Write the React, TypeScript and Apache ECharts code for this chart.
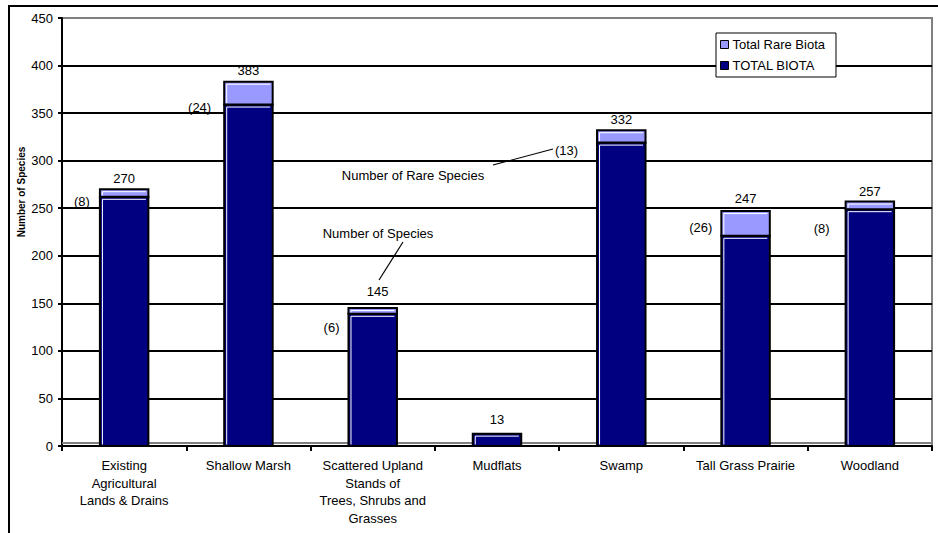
import React, { useEffect, useRef } from "react";
import * as echarts from "echarts";

// Habitat categories along the x axis
const CATEGORIES = [
  "Existing\nAgricultural\nLands & Drains",
  "Shallow Marsh",
  "Scattered Upland\nStands of\nTrees, Shrubs and\nGrasses",
  "Mudflats",
  "Swamp",
  "Tall Grass Prairie",
  "Woodland",
];

// Total number of species recorded per habitat (label on top of each bar)
const TOTAL_SPECIES = [270, 383, 145, 13, 332, 247, 257];

// Number of rare species per habitat (upper segment, label in parentheses)
const RARE_SPECIES = [8, 24, 6, 0, 13, 26, 8];

// Value axis range
const Y_MIN = 0;
const Y_MAX = 450;
const Y_STEP = 50;

const SERIES_RARE = "Total Rare Biota";
const SERIES_TOTAL = "TOTAL BIOTA";

const NAVY = "#000080";
const LAVENDER = "#9999FF";
const FONT = "Liberation Sans, Arial, Helvetica, sans-serif";
const BAR_RATIO = 0.39;

// Hand-placed label nudges (pixels), per category
const RARE_LABEL_SHIFT: [number, number][] = [
  [-10, 5],
  [-13, 3],
  [-9, 14],
  [0, 0],
  [-19, 8],
  [-9, -8],
  [-16, 19],
];
const TOTAL_LABEL_SHIFT: [number, number][] = [
  [0, 0],
  [0, 0],
  [5, -6],
  [0, -3],
  [0, 0],
  [0, -2],
  [0, 1],
];

function segmentRenderer(fill: string, withLabels: boolean) {
  return (params: any, api: any) => {
    const i = api.value(0);
    const lo = api.value(1);
    const hi = api.value(2);
    const pLo = api.coord([i, lo]);
    const pHi = api.coord([i, hi]);
    const bw = api.size([1, 0])[0] * BAR_RATIO;
    const x = pLo[0] - bw / 2;
    const y = pHi[1];
    const h = pLo[1] - pHi[1];
    const children: any[] = [];
    if (h > 0.5) {
      children.push({
        type: "rect",
        shape: { x, y, width: bw, height: h },
        style: { fill, stroke: "#000", lineWidth: 2 },
      });
      children.push({
        type: "polyline",
        shape: {
          points: [
            [x + 2.5, y + h - 1.5],
            [x + 2.5, y + 2.5],
            [x + bw - 2.5, y + 2.5],
          ],
        },
        style: { stroke: "#fff", lineWidth: 1, fill: null },
      });
    }
    if (withLabels) {
      const idx = params.dataIndex;
      const ts = TOTAL_LABEL_SHIFT[idx];
      children.push({
        type: "text",
        style: {
          text: String(hi),
          x: pLo[0] + ts[0],
          y: pHi[1] - 11 + ts[1],
          fill: "#000",
          font: `13px ${FONT}`,
          align: "center",
          verticalAlign: "middle",
          textAlign: "center",
          textVerticalAlign: "middle",
        },
      });
      const rare = hi - lo;
      if (rare > 0) {
        const rs = RARE_LABEL_SHIFT[idx];
        children.push({
          type: "text",
          style: {
            text: `(${rare})`,
            x: x + rs[0],
            y: pLo[1] + rs[1],
            fill: "#000",
            font: `13px ${FONT}`,
            align: "right",
            verticalAlign: "middle",
            textAlign: "right",
            textVerticalAlign: "middle",
          },
        });
      }
    }
    return { type: "group", children };
  };
}

export default function App() {
  const ref = useRef<HTMLDivElement>(null);

  useEffect(() => {
    if (!ref.current) return;
    const chart = echarts.init(ref.current, null, { renderer: "svg" });

    const baseData = CATEGORIES.map((_, i) => [i, 0, TOTAL_SPECIES[i] - RARE_SPECIES[i]]);
    const rareData = CATEGORIES.map((_, i) => [
      i,
      TOTAL_SPECIES[i] - RARE_SPECIES[i],
      TOTAL_SPECIES[i],
    ]);

    const textStyle = (extra: any) => ({
      fill: "#000",
      font: `13px ${FONT}`,
      ...extra,
    });

    chart.setOption({
      animation: false,
      backgroundColor: "#fff",
      textStyle: { fontFamily: FONT },
      grid: {
        left: 62,
        right: 6,
        top: 18,
        bottom: 87,
        show: true,
        borderColor: "#808080",
        borderWidth: 2,
        backgroundColor: "transparent",
      },
      legend: {
        orient: "vertical",
        left: 716,
        top: 33,
        padding: [5, 11, 5, 4],
        itemWidth: 8,
        itemHeight: 8,
        itemGap: 8,
        backgroundColor: "#fff",
        borderColor: "#000",
        borderWidth: 1,
        borderRadius: 0,
        itemStyle: { borderColor: "#000", borderWidth: 1 },
        textStyle: { fontSize: 13, color: "#000", fontFamily: FONT, padding: [0, 0, 0, -1] },
        data: [
          { name: SERIES_RARE, icon: "rect" },
          { name: SERIES_TOTAL, icon: "rect" },
        ],
      },
      xAxis: {
        type: "category",
        data: CATEGORIES,
        boundaryGap: true,
        axisLine: { show: true, lineStyle: { color: "#000", width: 2 } },
        axisTick: { show: true, length: 5, lineStyle: { color: "#000", width: 2 } },
        axisLabel: {
          interval: 0,
          color: "#000",
          fontSize: 13,
          fontFamily: FONT,
          lineHeight: 17.5,
          margin: 11,
        },
      },
      yAxis: {
        type: "value",
        min: Y_MIN,
        max: Y_MAX,
        interval: Y_STEP,
        axisLine: { show: true, lineStyle: { color: "#000", width: 2 } },
        axisTick: { show: true, length: 4, lineStyle: { color: "#000", width: 2 } },
        axisLabel: { color: "#000", fontSize: 13, fontFamily: FONT, margin: 9 },
        splitLine: {
          show: true,
          showMaxLine: false,
          lineStyle: { color: "#000", width: 2 },
        },
      },
      series: [
        {
          type: "custom",
          name: SERIES_TOTAL,
          itemStyle: { color: NAVY },
          encode: { x: 0, y: [1, 2] },
          data: baseData,
          renderItem: segmentRenderer(NAVY, false),
          z: 3,
        },
        {
          type: "custom",
          name: SERIES_RARE,
          itemStyle: { color: LAVENDER },
          encode: { x: 0, y: [1, 2] },
          data: rareData,
          renderItem: segmentRenderer(LAVENDER, true),
          z: 4,
        },
      ],
      graphic: [
        // outer chart frame (top and left edges)
        {
          type: "polyline",
          z: 10,
          shape: { points: [[9, 540], [9, 6], [945, 6]] },
          style: { stroke: "#000", lineWidth: 2, fill: null },
        },
        // floor edge behind the bars
        {
          type: "line",
          z: 1,
          shape: { x1: 62, y1: 443, x2: 932, y2: 443 },
          style: { stroke: "#808080", lineWidth: 2 },
        },
        // y axis title
        {
          type: "text",
          z: 10,
          x: 21,
          y: 192,
          rotation: Math.PI / 2,
          style: {
            text: "Number of Species",
            fill: "#000",
            font: `bold 10px ${FONT}`,
            align: "center",
            verticalAlign: "middle",
            textAlign: "center",
            textVerticalAlign: "middle",
          },
        },
        // annotation: rare species callout
        {
          type: "text",
          z: 10,
          style: textStyle({
            text: "Number of Rare Species",
            x: 413,
            y: 175,
            align: "center",
            verticalAlign: "middle",
            textAlign: "center",
            textVerticalAlign: "middle",
          }),
        },
        {
          type: "line",
          z: 10,
          shape: { x1: 493, y1: 165, x2: 553, y2: 149 },
          style: { stroke: "#000", lineWidth: 1.2 },
        },
        // annotation: species callout
        {
          type: "text",
          z: 10,
          style: textStyle({
            text: "Number of Species",
            x: 378,
            y: 233,
            align: "center",
            verticalAlign: "middle",
            textAlign: "center",
            textVerticalAlign: "middle",
          }),
        },
        {
          type: "line",
          z: 10,
          shape: { x1: 403, y1: 242, x2: 379, y2: 280 },
          style: { stroke: "#000", lineWidth: 1.2 },
        },
      ],
    });

    return () => chart.dispose();
  }, []);

  return (
    <div
      ref={ref}
      style={{ position: "fixed", left: 0, top: 0, width: 938, height: 533, background: "#fff" }}
    />
  );
}
